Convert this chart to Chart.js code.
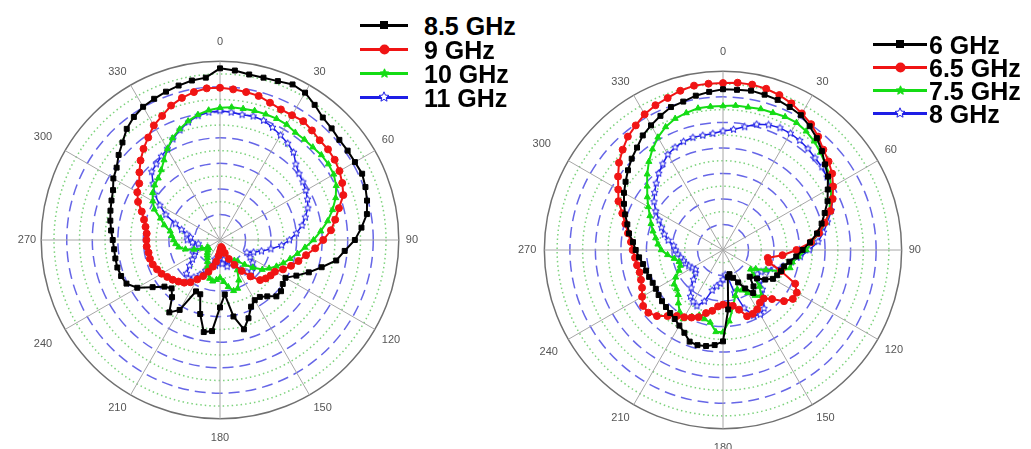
<!DOCTYPE html>
<html><head><meta charset="utf-8">
<script src="https://cdn.jsdelivr.net/npm/chart.js@4.4.1/dist/chart.umd.min.js"></script>
<style>
html,body{margin:0;padding:0;background:#fff;overflow:hidden;width:1031px;height:449px;}
#c1{position:absolute;left:13px;top:35px;}
#wrap2{position:absolute;left:519px;top:0;width:512px;height:449px;background:#fff;}
#c2{position:absolute;left:-4px;top:45px;}
.lg{position:absolute;height:28px;line-height:28px;font:bold 25px 'Liberation Sans',Arial,sans-serif;color:#000;white-space:nowrap;}
.ln{position:absolute;height:3px;}
.mk{position:absolute;}
</style></head><body>
<canvas id="c1" width="410" height="410"></canvas>
<div id="legL"></div>
<div id="wrap2"><canvas id="c2" width="410" height="410"></canvas><div id="legR"></div></div>
<script>
// ---------- data (dB, relative) ----------
const angles = [0,5,10,15,20,25,30,35,40,45,50,55,60,65,70,75,80,85,90,95,100,105,110,115,120,125,130,135,140,145,150,155,160,165,170,175,180,185,190,195,200,205,210,215,220,225,230,235,240,245,250,255,260,265,270,275,280,285,290,295,300,305,310,315,320,325,330,335,340,345,350,355];

const namesLeft = ['8.5 GHz','9 GHz','10 GHz','11 GHz'];
const namesRight = ['6 GHz','6.5 GHz','7.5 GHz','8 GHz'];

const g85 = [-1.4,-1.7,-2.1,-2.1,-1.9,-1.4,-1.7,-2.7,-3.7,-4.1,-4.5,-4.5,-4.5,-4.3,-4.7,-5.2,-5.8,-7.2,-8.6,-10.5,-11.9,-14.4,-16.5,-18.5,-20.2,-20.0,-19.4,-19.4,-20.6,-21.4,-21.4,-20.6,-18.7,-16.9,-19.8,-24.3,-21.8,-17.1,-16.7,-20.0,-23.7,-23.9,-19.2,-17.7,-20.4,-21.6,-20.8,-18.9,-16.3,-14.8,-14.4,-14.2,-14.2,-14.2,-14.0,-13.6,-13.2,-12.8,-12.4,-11.9,-10.9,-10.3,-9.1,-8.0,-6.6,-5.6,-4.9,-4.5,-4.1,-3.7,-3.3,-3.1];
const g9 = [-5.2,-5.4,-5.6,-5.8,-6.4,-6.8,-6.8,-6.6,-7.0,-7.4,-7.4,-7.6,-8.0,-8.6,-9.3,-10.9,-12.1,-13.2,-14.8,-16.3,-17.9,-19.1,-20.2,-21.4,-22.6,-22.9,-23.3,-23.9,-25.7,-27.6,-29.4,-30.9,-32.3,-33.2,-33.6,-33.2,-32.7,-31.9,-30.7,-29.6,-28.4,-27.2,-26.1,-24.9,-24.1,-23.5,-22.9,-22.4,-21.8,-21.4,-21.0,-20.8,-20.8,-20.6,-20.6,-20.6,-20.2,-19.6,-18.7,-17.3,-16.3,-15.7,-14.4,-13.0,-11.7,-10.5,-9.1,-8.2,-7.0,-6.2,-5.6,-5.2];
const g10 = [-9.1,-8.9,-8.9,-8.8,-8.8,-8.8,-8.9,-9.3,-9.3,-9.3,-9.1,-9.1,-9.3,-9.9,-10.9,-12.2,-13.6,-15.2,-16.7,-18.3,-19.6,-20.8,-21.8,-22.8,-23.9,-24.9,-26.6,-28.2,-29.6,-30.1,-28.2,-26.3,-24.9,-24.7,-25.7,-26.8,-27.6,-27.2,-26.8,-27.2,-28.2,-29.2,-30.1,-30.7,-31.1,-31.5,-31.9,-32.3,-32.1,-31.1,-29.6,-28.0,-26.8,-26.3,-25.9,-25.5,-25.1,-23.7,-22.6,-20.8,-19.8,-18.9,-18.3,-17.9,-17.1,-15.9,-14.4,-13.0,-11.9,-10.9,-10.1,-9.5];
const g11 = [-9.7,-9.9,-10.1,-9.9,-10.1,-10.7,-11.3,-11.9,-12.6,-14.0,-14.8,-15.2,-15.6,-16.1,-16.7,-17.7,-18.7,-20.0,-21.4,-22.9,-24.9,-26.6,-28.0,-29.2,-28.2,-27.2,-26.6,-26.3,-26.8,-28.0,-29.2,-29.9,-30.7,-29.6,-31.1,-30.3,-31.5,-30.7,-29.9,-31.1,-29.6,-28.4,-27.2,-26.1,-25.3,-25.7,-27.2,-28.4,-29.2,-29.7,-29.2,-30.1,-30.7,-29.6,-28.6,-29.2,-28.4,-27.2,-25.7,-23.3,-21.4,-19.4,-17.9,-16.1,-15.6,-15.0,-14.4,-13.2,-12.1,-11.1,-10.3,-9.9];

const g6 = [-3.5,-3.5,-3.3,-3.5,-3.7,-4.1,-4.5,-5.4,-6.4,-7.6,-8.9,-9.9,-11.3,-12.4,-13.8,-15.0,-16.3,-17.9,-19.4,-20.6,-21.8,-22.6,-22.9,-23.3,-23.7,-24.9,-26.3,-27.6,-25.7,-24.7,-26.3,-28.0,-29.2,-30.1,-29.6,-23.3,-17.1,-16.3,-15.9,-15.7,-15.9,-17.1,-17.9,-18.5,-18.9,-19.2,-19.4,-19.6,-19.8,-19.8,-19.6,-19.4,-19.1,-18.5,-17.9,-17.3,-16.3,-15.6,-14.6,-13.6,-12.6,-11.7,-10.7,-9.7,-8.8,-7.6,-6.8,-6.0,-5.2,-4.9,-4.3,-3.9];
const g65 = [-2.3,-2.1,-2.1,-2.3,-2.7,-3.3,-4.1,-4.9,-6.0,-7.2,-8.0,-8.9,-10.1,-11.3,-12.6,-14.4,-15.9,-17.7,-20.6,-23.3,-26.1,-25.7,-22.9,-19.4,-18.3,-18.3,-19.4,-21.4,-22.6,-22.4,-21.6,-21.2,-21.2,-22.9,-23.9,-24.1,-24.3,-23.9,-22.9,-22.2,-21.0,-20.4,-19.8,-19.2,-18.1,-16.7,-15.9,-15.9,-16.7,-17.5,-17.9,-18.1,-17.9,-17.7,-17.3,-16.9,-16.1,-15.2,-14.0,-12.4,-11.3,-9.9,-8.4,-7.2,-6.0,-5.2,-4.3,-3.7,-3.3,-2.7,-2.3,-2.3];
const g75 = [-6.8,-6.6,-6.6,-6.4,-6.4,-6.2,-6.2,-6.6,-7.2,-8.0,-8.8,-9.5,-10.5,-11.7,-12.8,-14.2,-15.9,-17.5,-18.7,-20.2,-21.2,-21.4,-22.9,-25.7,-27.6,-28.4,-27.2,-24.9,-23.3,-24.1,-25.3,-26.3,-26.8,-25.7,-23.7,-21.0,-18.9,-18.9,-20.6,-21.0,-21.4,-20.6,-19.4,-20.2,-21.4,-22.6,-23.1,-23.3,-24.3,-25.5,-26.1,-26.1,-25.3,-24.1,-22.9,-22.2,-21.6,-20.8,-20.0,-19.2,-18.1,-16.9,-15.6,-14.0,-12.4,-10.9,-9.5,-8.4,-7.6,-7.2,-6.8,-6.8];
const g8 = [-11.7,-11.3,-10.5,-9.5,-8.9,-8.6,-8.6,-8.8,-9.1,-9.5,-9.7,-10.1,-10.7,-11.3,-12.4,-13.8,-15.0,-16.3,-18.1,-19.8,-21.4,-22.8,-24.3,-25.7,-26.4,-26.8,-25.7,-24.1,-22.6,-21.0,-20.4,-20.8,-22.9,-26.3,-29.6,-30.1,-29.2,-28.4,-27.8,-26.8,-24.3,-22.9,-23.3,-23.9,-25.3,-26.8,-28.0,-28.4,-28.0,-27.6,-27.2,-27.0,-26.6,-26.1,-25.7,-25.3,-24.1,-23.1,-22.2,-21.2,-19.8,-18.5,-17.5,-16.5,-15.4,-14.4,-13.4,-12.8,-12.4,-12.2,-12.2,-12.1];

// ---------- styling ----------
const BLACK = '#000000', RED = '#f01414', GREEN = '#14dc14', BLUE = '#1e1ee6';

function starCanvas(color, size, filled) {
  const c = document.createElement('canvas');
  c.width = size; c.height = size;
  const g = c.getContext('2d');
  const cx = size / 2, cy = size / 2, R = size / 2 - 0.8, r = R * 0.45;
  g.beginPath();
  for (let i = 0; i < 10; i++) {
    const a = -Math.PI / 2 + i * Math.PI / 5;
    const rr = i % 2 ? r : R;
    g.lineTo(cx + rr * Math.cos(a), cy + rr * Math.sin(a));
  }
  g.closePath();
  g.fillStyle = filled ? color : '#ffffff';
  g.fill();
  g.strokeStyle = color; g.lineWidth = 1; g.stroke();
  return c;
}
const blueStar = starCanvas(BLUE, 9, false);

function ds(label, data, color, style, radius, bw) {
  return {
    label, data, borderColor: color, backgroundColor: color,
    borderWidth: bw, pointStyle: style, pointRadius: radius, pointHoverRadius: radius,
    pointBorderWidth: 1, pointBorderColor: color, pointBackgroundColor: color,
    fill: false, tension: 0
  };
}

const padLeft = {0: 13, 180: 13, 240: 15, 300: 15, 270: 5, 90: 7};
const padRight = {0: 13, 180: 13, 240: 12, 300: 20, 270: 8, 90: 7};

function rScale(padMap) {
  const isMajor = v => Math.abs(Math.round(v * 10)) % 50 === 0;
  return {
    min: -35, max: 0,
    ticks: { stepSize: 2.5, display: false },
    grid: {
      circular: true,
      color: c => {
        if (!c.tick) return '#707070';
        const v = c.tick.value;
        if (v >= 0) return '#707070';
        if (v <= -35) return 'rgba(0,0,0,0)';
        return isMajor(v) ? 'rgba(85,85,228,0.9)' : 'rgba(110,205,110,0.9)';
      },
      lineWidth: 1.5
    },
    border: {
      dash: c => {
        if (!c.tick) return [];
        const v = c.tick.value;
        if (v >= 0) return [];
        return isMajor(v) ? [11, 6] : [1.5, 3];
      }
    },
    angleLines: { display: true, color: '#a6a6a6', lineWidth: c => (c.index % 6 === 0 ? 1 : 0) },
    pointLabels: {
      display: true, color: '#555555',
      padding: c => { const a = angles[c.index]; return (a in padMap) ? padMap[a] : 8; },
      font: { size: 11, family: "'Liberation Sans', Arial, sans-serif" },
      callback: l => (l % 30 === 0 ? String(l) : '')
    }
  };
}

function makeChart(id, names, series, padMap) {
  const styles = [[BLACK, 'rect', 3.5, 2], [RED, 'circle', 3.5, 2], [GREEN, 'triangle', 3.5, 2], [BLUE, blueStar, 4.5, 1.5]];
  new Chart(document.getElementById(id), {
    type: 'radar',
    data: {
      labels: angles,
      datasets: series.map((s, i) => ds(names[i], s, styles[i][0], styles[i][1], styles[i][2], styles[i][3]))
    },
    options: {
      responsive: false, animation: false, devicePixelRatio: 1,
      plugins: { legend: { display: false }, tooltip: { enabled: false } },
      scales: { r: rScale(padMap) }
    }
  });
}

makeChart('c1', namesLeft, [g85, g9, g10, g11], padLeft);
makeChart('c2', namesRight, [g6, g65, g75, g8], padRight);

// ---------- legends (HTML text) ----------
function markerEl(kind, color, size) {
  const c = document.createElement('canvas');
  c.width = size; c.height = size;
  const g = c.getContext('2d');
  g.fillStyle = color; g.strokeStyle = color;
  if (kind === 'rect') { g.fillRect(1, 1, size - 2, size - 2); }
  else if (kind === 'circle') { g.beginPath(); g.arc(size / 2, size / 2, size / 2 - 0.5, 0, Math.PI * 2); g.fill(); }
  else { return starCanvas(color, size, kind === 'starFilled'); }
  return c;
}
function legend(container, names, rowsY, lineX, lineW, textX, dx) {
  const kinds = [['rect', BLACK, 10], ['circle', RED, 11], ['starFilled', GREEN, 11], ['star', BLUE, 12]];
  names.forEach((n, i) => {
    const y = rowsY[i];
    const ln = document.createElement('div');
    ln.className = 'ln';
    ln.style.left = (lineX - dx) + 'px'; ln.style.top = (y - 1.5) + 'px'; ln.style.width = lineW + 'px';
    ln.style.background = kinds[i][1];
    container.appendChild(ln);
    const m = markerEl(kinds[i][0], kinds[i][1], kinds[i][2]);
    m.className = 'mk';
    m.style.left = (lineX - dx + lineW / 2 - kinds[i][2] / 2) + 'px';
    m.style.top = (y - kinds[i][2] / 2) + 'px';
    container.appendChild(m);
    const t = document.createElement('div');
    t.className = 'lg';
    t.textContent = n;
    t.style.left = (textX - dx) + 'px'; t.style.top = (y - 13) + 'px';
    container.appendChild(t);
  });
}
legend(document.getElementById('legL'), namesLeft, [25, 49, 73, 97], 360, 48, 424, 0);
legend(document.getElementById('legR'), namesRight, [44, 67, 90, 113], 873, 54, 929, 519);
</script>
</body></html>
